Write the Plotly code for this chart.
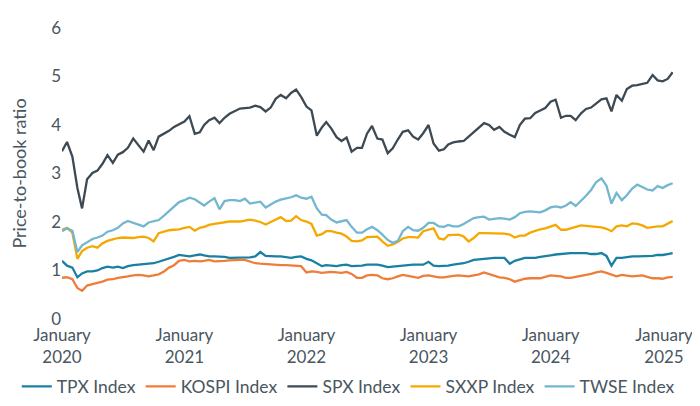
import plotly.graph_objects as go

dates = [
    "2020-01-01","2020-01-16","2020-02-01","2020-02-16","2020-03-01","2020-03-16","2020-04-01","2020-04-16",
    "2020-05-01","2020-05-16","2020-06-01","2020-06-16","2020-07-01","2020-07-16","2020-08-01","2020-08-16",
    "2020-09-01","2020-09-16","2020-10-01","2020-10-16","2020-11-01","2020-11-16","2020-12-01","2020-12-16",
    "2021-01-01","2021-01-16","2021-02-01","2021-02-16","2021-03-01","2021-03-16","2021-04-01","2021-04-16",
    "2021-05-01","2021-05-16","2021-06-01","2021-06-16","2021-07-01","2021-07-16","2021-08-01","2021-08-16",
    "2021-09-01","2021-09-16","2021-10-01","2021-10-16","2021-11-01","2021-11-16","2021-12-01","2021-12-16",
    "2022-01-01","2022-01-16","2022-02-01","2022-02-16","2022-03-01","2022-03-16","2022-04-01","2022-04-16",
    "2022-05-01","2022-05-16","2022-06-01","2022-06-16","2022-07-01","2022-07-16","2022-08-01","2022-08-16",
    "2022-09-01","2022-09-16","2022-10-01","2022-10-16","2022-11-01","2022-11-16","2022-12-01","2022-12-16",
    "2023-01-01","2023-01-16","2023-02-01","2023-02-16","2023-03-01","2023-03-16","2023-04-01","2023-04-16",
    "2023-05-01","2023-05-16","2023-06-01","2023-06-16","2023-07-01","2023-07-16","2023-08-01","2023-08-16",
    "2023-09-01","2023-09-16","2023-10-01","2023-10-16","2023-11-01","2023-11-16","2023-12-01","2023-12-16",
    "2024-01-01","2024-01-16","2024-02-01","2024-02-16","2024-03-01","2024-03-16","2024-04-01","2024-04-16",
    "2024-05-01","2024-05-16","2024-06-01","2024-06-16","2024-07-01","2024-07-16","2024-08-01","2024-08-16",
    "2024-09-01","2024-09-16","2024-10-01","2024-10-16","2024-11-01","2024-11-16","2024-12-01","2024-12-16",
    "2024-12-31",
]

tpx = [
    1.20,1.10,1.06,0.86,0.94,0.98,0.98,1.00,1.05,1.08,1.06,1.08,1.05,1.09,1.11,1.12,
    1.12,1.13,1.15,1.18,1.21,1.25,1.28,1.32,1.31,1.29,1.31,1.33,1.31,1.29,1.29,1.29,
    1.28,1.26,1.26,1.26,1.26,1.27,1.29,1.38,1.30,1.29,1.29,1.29,1.27,1.26,1.28,1.29,
    1.24,1.21,1.15,1.09,1.11,1.10,1.09,1.11,1.12,1.09,1.09,1.10,1.12,1.12,1.12,1.10,
    1.07,1.08,1.09,1.10,1.12,1.12,1.12,1.12,1.18,1.10,1.09,1.09,1.10,1.12,1.13,1.15,
    1.18,1.22,1.23,1.24,1.26,1.26,1.26,1.26,1.14,1.20,1.23,1.26,1.26,1.26,1.28,1.29,
    1.31,1.33,1.34,1.36,1.36,1.36,1.36,1.36,1.34,1.34,1.36,1.30,1.10,1.26,1.26,1.28,
    1.29,1.29,1.29,1.29,1.30,1.32,1.32,1.34,1.36,
]

kospi = [
    0.85,0.86,0.82,0.64,0.58,0.69,0.72,0.74,0.77,0.81,0.82,0.85,0.86,0.88,0.90,0.91,
    0.90,0.88,0.90,0.92,0.98,1.06,1.11,1.20,1.22,1.19,1.20,1.19,1.20,1.22,1.19,1.19,
    1.20,1.21,1.22,1.22,1.22,1.18,1.15,1.14,1.13,1.12,1.11,1.11,1.11,1.10,1.09,1.09,
    0.96,0.98,0.97,0.95,0.96,0.97,0.96,0.95,0.97,0.93,0.85,0.85,0.90,0.91,0.90,0.84,
    0.82,0.84,0.88,0.91,0.89,0.87,0.85,0.89,0.90,0.88,0.86,0.86,0.88,0.89,0.90,0.89,
    0.88,0.90,0.92,0.96,0.93,0.90,0.86,0.85,0.82,0.77,0.80,0.83,0.84,0.84,0.84,0.87,
    0.90,0.89,0.88,0.85,0.85,0.87,0.89,0.90,0.93,0.96,0.98,0.95,0.91,0.88,0.91,0.90,
    0.88,0.89,0.90,0.87,0.84,0.84,0.83,0.86,0.87,
]

spx = [
    3.46,3.65,3.35,2.70,2.28,2.88,3.01,3.06,3.20,3.38,3.22,3.39,3.44,3.53,3.72,3.58,
    3.45,3.68,3.48,3.76,3.82,3.88,3.96,4.02,4.07,4.18,3.82,3.85,4.00,4.10,4.15,4.04,
    4.15,4.23,4.29,4.34,4.35,4.36,4.40,4.37,4.28,4.36,4.54,4.62,4.55,4.66,4.73,4.58,
    4.38,4.30,3.78,3.95,4.06,3.93,3.75,3.67,3.74,3.45,3.53,3.53,3.82,3.98,3.72,3.70,
    3.42,3.52,3.70,3.86,3.89,3.76,3.70,3.83,4.00,3.62,3.47,3.50,3.60,3.64,3.66,3.67,
    3.76,3.85,3.93,4.04,4.00,3.90,3.96,3.86,3.80,3.75,4.00,4.13,4.14,4.25,4.30,4.35,
    4.48,4.52,4.15,4.19,4.19,4.10,4.24,4.33,4.36,4.45,4.53,4.55,4.28,4.62,4.50,4.74,
    4.81,4.82,4.85,4.87,5.03,4.92,4.90,4.95,5.09,
]

sxxp = [
    1.84,1.88,1.78,1.24,1.40,1.47,1.50,1.47,1.56,1.61,1.64,1.67,1.68,1.68,1.67,1.69,
    1.70,1.67,1.60,1.77,1.80,1.83,1.84,1.85,1.88,1.90,1.82,1.88,1.90,1.94,1.96,1.98,
    2.00,2.01,2.01,2.01,2.03,2.05,2.03,2.00,1.95,2.00,2.06,2.10,2.02,2.03,2.12,2.04,
    2.01,1.96,1.72,1.75,1.81,1.81,1.78,1.76,1.70,1.61,1.60,1.62,1.69,1.70,1.70,1.60,
    1.51,1.54,1.59,1.66,1.69,1.69,1.68,1.81,1.84,1.87,1.66,1.64,1.73,1.74,1.74,1.70,
    1.60,1.67,1.77,1.77,1.77,1.77,1.77,1.76,1.74,1.68,1.72,1.72,1.78,1.82,1.85,1.87,
    1.90,1.94,1.84,1.84,1.87,1.90,1.93,1.92,1.91,1.91,1.89,1.86,1.81,1.91,1.93,1.91,
    1.97,1.96,1.93,1.88,1.90,1.91,1.91,1.96,2.02,
]

twse = [
    1.81,1.87,1.82,1.38,1.52,1.59,1.65,1.68,1.72,1.80,1.83,1.88,1.97,2.02,1.98,1.95,
    1.91,1.99,2.01,2.04,2.13,2.23,2.31,2.41,2.45,2.50,2.47,2.40,2.34,2.42,2.49,2.26,
    2.43,2.45,2.45,2.43,2.48,2.38,2.40,2.42,2.30,2.36,2.42,2.46,2.48,2.51,2.55,2.50,
    2.48,2.52,2.28,2.15,2.14,2.05,1.99,2.01,2.04,1.90,1.78,1.78,1.85,1.90,1.83,1.74,
    1.63,1.57,1.61,1.81,1.90,1.83,1.82,1.88,1.98,1.98,1.91,1.90,1.94,1.91,1.91,1.96,
    2.02,2.08,2.10,2.11,2.05,2.07,2.08,2.07,2.05,2.10,2.18,2.21,2.22,2.21,2.20,2.24,
    2.30,2.32,2.30,2.34,2.41,2.33,2.43,2.54,2.66,2.82,2.90,2.75,2.38,2.60,2.45,2.55,
    2.69,2.77,2.72,2.67,2.65,2.74,2.70,2.76,2.80,
]

series_names = ["TPX Index", "KOSPI Index", "SPX Index", "SXXP Index", "TWSE Index"]
series_values = [tpx, kospi, spx, sxxp, twse]
series_colors = ["#1a80a3", "#ef7d3a", "#3d4a54", "#f5a800", "#72b6cf"]

tick_dates = ["2020-01-01", "2021-01-01", "2022-01-01", "2023-01-01", "2024-01-01"]
tick_text = ["January<br>2020", "January<br>2021", "January<br>2022",
             "January<br>2023", "January<br>2024"]
last_tick_date = ["2025-01-01"]
last_tick_text = ["January<br>2025"]
x_range = ["2020-01-01", "2025-01-01"]

FONT = "Lato"
TXT = "#4a5660"

fig = go.Figure()
for k, (name, vals, col) in enumerate(zip(series_names, series_values, series_colors)):
    # last series is plotted on the overlaid (range-matched) x-axis that carries the 2025 label
    xa = "x2" if k == len(series_names) - 1 else "x"
    fig.add_trace(go.Scatter(x=dates, y=vals, name=name, mode="lines", xaxis=xa, yaxis="y",
                             line=dict(color=col, width=2.3)))

axis_common = dict(type="date", range=x_range, tickmode="array", tickangle=0,
                   ticklabeloverflow="allow", showgrid=False, zeroline=False,
                   showline=False, ticks="", ticklabelstandoff=4,
                   tickfont=dict(size=17, color=TXT))

fig.update_layout(
    width=700, height=406,
    margin=dict(l=54, r=35, t=20, b=95, autoexpand=False),
    paper_bgcolor="white", plot_bgcolor="white",
    font=dict(family=FONT, size=17, color=TXT),
    showlegend=True,
    legend=dict(orientation="h", x=-0.074, xref="paper", xanchor="left",
                y=-0.232, yref="paper", yanchor="middle",
                font=dict(size=17.5, color=TXT),
                itemwidth=30, tracegroupgap=0),
    xaxis=dict(tickvals=tick_dates, ticktext=tick_text, **axis_common),
    xaxis2=dict(tickvals=last_tick_date, ticktext=last_tick_text,
                overlaying="x", anchor="y", side="bottom", matches="x",
                ticklabelshift=-9, **axis_common),
    yaxis=dict(range=[0, 6], tickvals=[0, 1, 2, 3, 4, 5, 6],
               showgrid=False, zeroline=False, showline=False, ticks="",
               tickfont=dict(size=17, color=TXT),
               title=dict(text="Price-to-book ratio", font=dict(size=18, color=TXT), standoff=26)),
)

fig.write_html("out.html")
